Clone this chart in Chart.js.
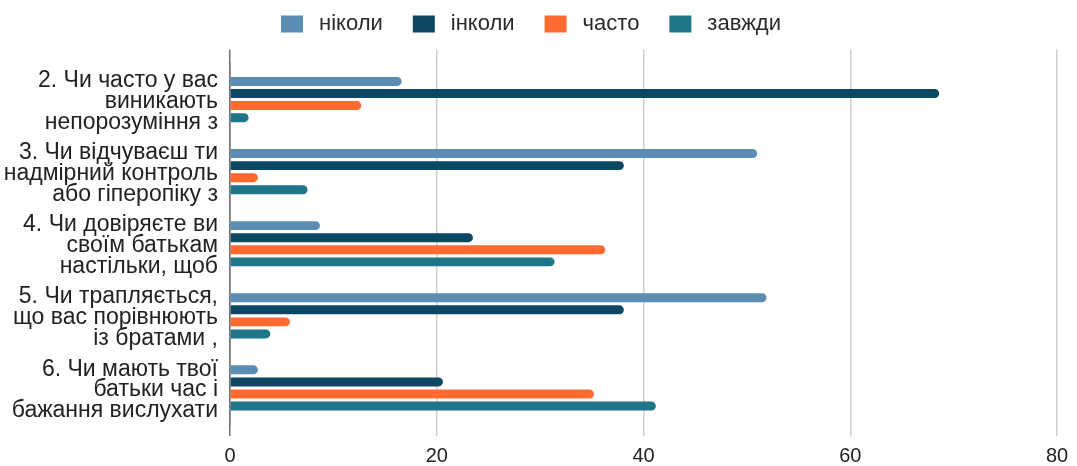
<!DOCTYPE html>
<html lang="uk">
<head>
<meta charset="utf-8">
<title>Стосунки з батьками</title>
<script src="https://cdn.jsdelivr.net/npm/chart.js@4.4.1/dist/chart.umd.min.js"></script>
<style>
  html, body { margin: 0; padding: 0; background: #ffffff; }
  #wrap { width: 1077px; height: 466px; position: relative; }
</style>
</head>
<body>
<div id="wrap"><canvas id="chart"></canvas></div>
<script>
// Questions (multi-line labels on the vertical axis)
const questions = [
  ['2. Чи часто у вас', 'виникають', 'непорозуміння з'],
  ['3. Чи відчуваєш ти', 'надмірний контроль', 'або гіперопіку з'],
  ['4. Чи довіряєте ви', 'своїм батькам', 'настільки, щоб'],
  ['5. Чи трапляється,', 'що вас порівнюють', 'із братами ,'],
  ['6. Чи мають твої', 'батьки час і', 'бажання вислухати']
];

// Answer options
const seriesNames = ['ніколи', 'інколи', 'часто', 'завжди'];

// Share of answers per question
const never     = [16.6, 51.0, 8.7, 51.9, 2.7];
const sometimes = [68.6, 38.1, 23.5, 38.1, 20.6];
const often     = [12.7, 2.7, 36.3, 5.8, 35.2];
const always    = [1.8, 7.5, 31.4, 3.9, 41.2];

// Value axis
const xMin = 0;
const xMax = 80;
const xStep = 20;

const colors = ['#5b8db2', '#0c4764', '#ff6a30', '#1f7689'];
const values = [never, sometimes, often, always];

const FONT = "'Liberation Sans', Arial, sans-serif";
const gridColor = ctx => (ctx.tick && ctx.tick.value === 0) ? '#777777' : '#cfcfcf';

const datasets = seriesNames.map((name, i) => ({
  label: name,
  data: values[i],
  backgroundColor: colors[i],
  borderWidth: 0,
  borderRadius: 5,
  categoryPercentage: 0.67,
  barPercentage: 0.74
}));

new Chart(document.getElementById('chart'), {
  type: 'bar',
  data: { labels: questions, datasets },
  options: {
    indexAxis: 'y',
    responsive: true,
    maintainAspectRatio: false,
    animation: false,
    layout: { padding: { left: 0, right: 20, top: -14.5, bottom: 0 } },
    plugins: {
      tooltip: { enabled: false },
      legend: {
        position: 'top',
        align: 'center',
        labels: {
          font: { family: FONT, size: 22 },
          color: '#2a2a2a',
          boxWidth: 32,
          boxHeight: 27,
          padding: 25,
          generateLabels(chart) {
            const items = Chart.defaults.plugins.legend.labels.generateLabels(chart);
            // white outline trims the swatch down to a small square
            return items.map(it => Object.assign(it, { lineWidth: 10, strokeStyle: '#ffffff' }));
          }
        }
      }
    },
    scales: {
      x: {
        type: 'linear',
        position: 'bottom',
        min: xMin,
        max: xMax,
        ticks: {
          stepSize: xStep,
          padding: 8,
          color: '#222222',
          font: { family: FONT, size: 20 }
        },
        grid: {
          color: gridColor,
          lineWidth: 1.5,
          drawTicks: true,
          tickLength: 12,
          tickColor: gridColor
        },
        border: { display: false },
        afterFit: s => { s.height = 42; }
      },
      xTop: {
        type: 'linear',
        position: 'top',
        min: xMin,
        max: xMax,
        ticks: { stepSize: xStep, display: false },
        grid: {
          color: gridColor,
          lineWidth: 1.5,
          drawOnChartArea: false,
          drawTicks: true,
          tickLength: 14,
          tickColor: gridColor
        },
        border: { display: false },
        afterFit: s => { s.height = 16; }
      },
      y: {
        type: 'category',
        offset: true,
        ticks: {
          color: '#222222',
          padding: 4,
          labelOffset: 2,
          font: { family: FONT, size: 23, lineHeight: 0.9 }
        },
        grid: { display: false },
        border: { display: true, color: '#777777', width: 1.5 },
        afterFit: s => { s.width = 230; }
      }
    }
  }
});
</script>
</body>
</html>
